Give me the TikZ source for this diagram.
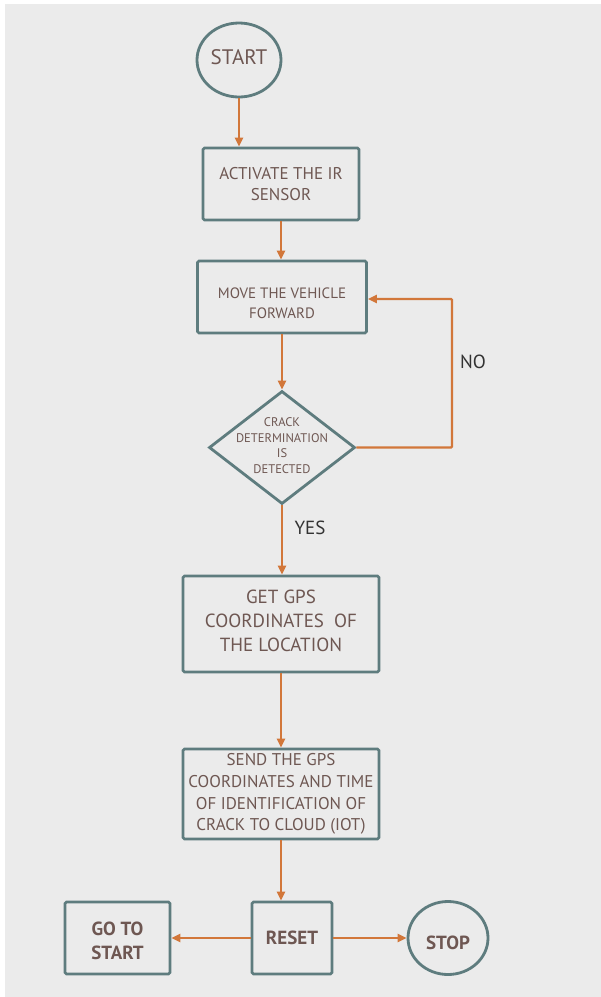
\documentclass[tikz,border=0pt]{standalone}
\usepackage{fontspec}
\setmainfont{PT Sans}
\usetikzlibrary{shapes.geometric,arrows.meta}
\definecolor{bg}{HTML}{EBEBEB}
\definecolor{edge}{HTML}{5E7C7E}
\definecolor{txt}{HTML}{6E5752}
\definecolor{arr}{HTML}{D2773A}
\definecolor{lbl}{HTML}{333333}
\tikzset{
  box/.style={draw=edge, line width=2.8pt, rounded corners=1.5pt, fill=bg, text=txt, align=center, inner sep=0pt},
  oval/.style={draw=edge, line width=2.8pt, ellipse, fill=bg, text=txt, align=center, inner sep=0pt},
  dia/.style={draw=edge, line width=2.8pt, diamond, fill=bg, inner sep=0pt},
  inner/.style={text=txt, align=center, inner sep=0pt},
  flow/.style={draw=arr, line width=2.4pt, -{Triangle[length=9pt,width=8pt]}},
  lab/.style={text=lbl, font=\fontsize{19}{22}\selectfont}
}
\begin{document}
\begin{tikzpicture}[x=1pt,y=-1pt]
\useasboundingbox (0,0) rectangle (601,997);
\fill[bg] (4.5,4) rectangle (601,997);
\node[oval, minimum width=84pt, minimum height=74pt] (start) at (239,60) {};
\node[inner, font=\fontsize{21}{24}\selectfont] (starttext) at (239,57) {START};
\node[box, minimum width=156pt, minimum height=72pt, font=\fontsize{17}{21}\selectfont] (act) at (281,184) {ACTIVATE THE IR\\SENSOR};
\node[box, minimum width=169pt, minimum height=72pt] (move) at (282,297) {};
\node[inner, font=\fontsize{15}{20}\selectfont] (movetext) at (282,303) {MOVE THE VEHICLE\\FORWARD};
\node[dia, minimum width=146pt, minimum height=113pt] (crack) at (282,447.5) {};
\node[inner, font=\fontsize{12.5}{15.6}\selectfont] (cracktext) at (282,445.5) {CRACK\\DETERMINATION\\IS\\DETECTED};
\node[box, minimum width=196pt, minimum height=96pt] (gps) at (281,624) {};
\node[inner, font=\fontsize{19}{24}\selectfont] (gpstext) at (281,621) {GET GPS\\COORDINATES~~OF\\THE LOCATION};
\node[box, minimum width=196pt, minimum height=90pt, font=\fontsize{17}{21.7}\selectfont] (send) at (281,794) {SEND THE GPS\\COORDINATES AND TIME\\OF IDENTIFICATION OF\\CRACK TO CLOUD (IOT)};
\node[box, minimum width=80pt, minimum height=72pt, font=\bfseries\fontsize{19}{22}\selectfont] (reset) at (292,938) {RESET};
\node[box, minimum width=105pt, minimum height=72pt] (goto) at (117.5,938) {};
\node[inner, font=\bfseries\fontsize{19}{24}\selectfont] (gototext) at (117.5,941) {GO TO\\START};
\node[oval, minimum width=80pt, minimum height=73pt] (stop) at (448,938) {};
\node[inner, font=\bfseries\fontsize{19}{22}\selectfont] (stoptext) at (448,943) {STOP};
\draw[flow] (start.south) -- (start.south |- act.north);
\draw[flow] (act.south) -- (act.south |- move.north);
\draw[flow] (move.south) -- (crack.north);
\coordinate (nocorner1) at (452,447.5);
\coordinate (nocorner2) at (452,299);
\draw[flow, rounded corners=1pt] (crack.east) -- (nocorner1) -- (nocorner2) -- (move.east |- nocorner2);
\draw[flow] (crack.south) -- (crack.south |- gps.north);
\draw[flow] (gps.south) -- (gps.south |- send.north);
\draw[flow] (send.south) -- (send.south |- reset.north);
\draw[flow] (reset.west) -- (goto.east);
\draw[flow] (reset.east) -- (stop.west);
\node[lab] (no) at (473,362) {NO};
\node[lab] (yes) at (310,528) {YES};
\end{tikzpicture}
\end{document}
